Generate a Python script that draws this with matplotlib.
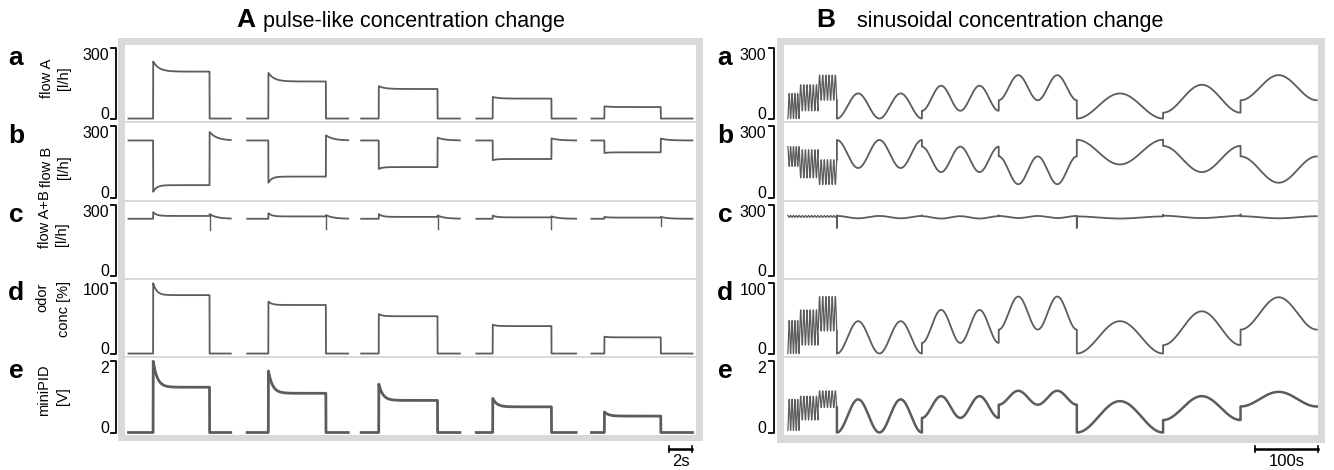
import numpy as np
import matplotlib.pyplot as plt
from matplotlib.patches import Rectangle
from matplotlib.transforms import blended_transform_factory

plt.rcParams['font.family'] = ['Liberation Sans', 'DejaVu Sans']

# ---------------- data ----------------
# A: pulse-like, five pulses (time in s)
p_start = [0.3, 10.4, 20.1, 29.9, 39.7]
p_on = [2.4, 12.2, 21.6, 31.3, 40.8]
p_off = [7.2, 17.1, 26.6, 36.3, 45.6]
p_end = [9.0, 19.0, 28.5, 38.4, 48.3]

flowA_plateau = [200, 158, 126, 85, 49]
flowA_peak = [243, 195, 138, 92, 52]

flowB_base = 240
flowB_plateau = [52, 88, 128, 162, 190]
flowB_dip = [24, 62, 120, 157, 187]
flowB_post = [276, 262, 252, 249, 248]

flowAB_base = 242
flowAB_plateau = [254, 252, 250, 248, 247]
flowAB_spike = [270, 266, 262, 256, 250]
flowAB_drop = [196, 198, 200, 200, 212]
flowAB_post = [262, 258, 256, 252, 250]

conc_plateau = [83, 69, 53, 39, 23]
conc_peak = [100, 74, 56, 41, 24]

pid_plateau = [1.27, 1.10, 0.90, 0.72, 0.46]
pid_peak = [2.0, 1.74, 1.36, 0.96, 0.58]

# B: sinusoidal (time in s)
fast_bounds = [6, 24, 54, 84]
fast_cycles = [4, 6, 6]
slow_bounds = [84, 219, 341, 465, 602, 725, 846]
slow_cycles = [2, 2, 2, 1, 1, 1]

sinA_fast = [(0, 107), (33, 144), (78, 185)]
sinA_slow = [(0, 107), (33, 140), (78, 185), (0, 107), (25, 144), (78, 185)]
sinB_fast = [(131, 214), (83, 201), (55, 159)]
sinB_slow = [(124, 242), (107, 214), (56, 173), (139, 243), (107, 217), (62, 173)]
sinAB_fast = [(248, 256), (248, 256), (248, 256)]
sinAB_slow = [(244, 254), (243, 253), (245, 254), (243, 252), (245, 255), (244, 253)]
sinAB_jump = [204, 256, 256, 204, 258, 260]
sinC_fast = [(0, 47), (12, 62), (32, 81)]
sinC_slow = [(0, 46), (15, 62), (34, 81), (0, 46), (12, 60), (34, 80)]
sinE_fast = [(0.06, 0.93), (0.35, 1.02), (0.70, 1.17)]
sinE_slow = [(0.0, 0.93), (0.41, 1.02), (0.78, 1.17), (0.0, 0.88), (0.35, 1.02), (0.73, 1.14)]

row_max = [300, 300, 300, 100, 2]
row_letters = ['a', 'b', 'c', 'd', 'e']
row_label1 = ['flow A', 'flow B', 'flow A+B', 'odor', 'miniPID']
row_label2 = ['[l/h]', '[l/h]', '[l/h]', 'conc [%]', '[V]']

# ---------------- layout (pixels) ----------------
W, H = 1334, 470
fig = plt.figure(figsize=(W / 100, H / 100), dpi=100)

GRAY = '#d9d9d9'
LINE = '#5c5c5c'

row_top = [45, 123, 202, 280, 358]
row_bot = [121, 200, 278, 356, 435]
lab1_y = [78, 167, 219, 297, 390]
lab2_y = [78, 167, 234, 309, 396]
lab1_x = [47, 47, 45, 42, 44]
lab2_x = [64, 64, 62, 64, 63]


def fx(px):
    return px / W


def fy(py):
    return 1 - py / H


def panel_bg(x0, x1, y0, y1):
    fig.add_artist(Rectangle((fx(x0), fy(y1)), fx(x1) - fx(x0), fy(y0) - fy(y1),
                             transform=fig.transFigure, facecolor=GRAY,
                             edgecolor='none', zorder=-5))


panel_bg(118, 703, 38, 441)
panel_bg(777, 1325, 38, 443)


def make_axes(x0, x1, xlim, bracket_x, tick_x, letter_x):
    axes = []
    for i in range(5):
        ax = fig.add_axes([fx(x0), fy(row_bot[i]), fx(x1) - fx(x0),
                           fy(row_top[i]) - fy(row_bot[i])])
        ax.set_facecolor('white')
        for s in ax.spines.values():
            s.set_visible(False)
        ax.set_xticks([])
        ax.set_yticks([])
        vmax = row_max[i]
        ax.set_ylim(-0.035 * vmax, 1.045 * vmax)
        ax.set_xlim(*xlim)
        tr = blended_transform_factory(fig.transFigure, ax.transData)
        ax.plot([fx(bracket_x - 5), fx(bracket_x), fx(bracket_x), fx(bracket_x - 5)],
                [vmax, vmax, 0, 0], color='black', lw=1.3, transform=tr,
                clip_on=False)
        ax.text(fx(tick_x), vmax, str(vmax), transform=tr, ha='right',
                va='top', fontsize=11.5)
        ax.text(fx(tick_x), 0, '0', transform=tr, ha='right', va='baseline',
                fontsize=11.5)
        fig.text(fx(letter_x), fy(row_top[i] + 20), row_letters[i],
                 ha='center', va='baseline', fontsize=19, fontweight='bold')
        axes.append(ax)
    return axes


axL = make_axes(125, 696, (0, 48.6), 116, 109, 16)
axR = make_axes(784, 1318, (0, 848), 774, 766, 725)

for i in range(5):
    fig.text(fx(lab1_x[i]), fy(lab1_y[i]), row_label1[i], rotation=90,
             ha='center', va='center', fontsize=10.5)
    fig.text(fx(lab2_x[i]), fy(lab2_y[i]), row_label2[i], rotation=90,
             ha='center', va='center', fontsize=10.5)


# ---------------- A: pulses ----------------
def pulse(t, on, off, base, peak, plateau, post, tau_on, tau_off):
    y = np.full(t.shape, float(base))
    m = (t >= on) & (t < off)
    y[m] = plateau + (peak - plateau) * np.exp(-(t[m] - on) / tau_on)
    m = t >= off
    y[m] = base + (post - base) * np.exp(-(t[m] - off) / tau_off)
    return y


for k in range(5):
    t = np.linspace(p_start[k], p_end[k], 800)
    on, off = p_on[k], p_off[k]
    axL[0].plot(t, pulse(t, on, off, 0, flowA_peak[k], flowA_plateau[k], 0, 0.5, 0.1),
                color=LINE, lw=1.3)
    axL[1].plot(t, pulse(t, on, off, flowB_base, flowB_dip[k], flowB_plateau[k],
                         flowB_post[k], 0.3, 0.6), color=LINE, lw=1.3)
    axL[2].plot(t, pulse(t, on, off, flowAB_base, flowAB_spike[k], flowAB_plateau[k],
                         flowAB_post[k], 0.3, 0.6), color=LINE, lw=1.3)
    axL[2].plot([off, off], [flowAB_drop[k], flowAB_post[k]], color=LINE, lw=1.0)
    axL[3].plot(t, pulse(t, on, off, 0, conc_peak[k], conc_plateau[k], 0, 0.3, 0.1),
                color=LINE, lw=1.3)
    axL[4].plot(t, pulse(t, on, off, 0, pid_peak[k], pid_plateau[k], 0, 0.35, 0.25),
                color=LINE, lw=2.0)


# ---------------- B: sinusoids ----------------
def sine_seg(t0, t1, lo, hi, ncyc, start_high):
    t = np.linspace(t0, t1, 60 * ncyc + 40)
    ph = (t - t0) / (t1 - t0) * ncyc * 2 * np.pi
    sgn = 1 if start_high else -1
    return t, (lo + hi) / 2 + sgn * (hi - lo) / 2 * np.cos(ph)


series = [(sinA_fast, sinA_slow, False), (sinB_fast, sinB_slow, True),
          (sinAB_fast, sinAB_slow, True), (sinC_fast, sinC_slow, False),
          (sinE_fast, sinE_slow, False)]

for i, (fast, slow, high) in enumerate(series):
    ts, ys = [], []
    for j in range(3):
        t, y = sine_seg(fast_bounds[j], fast_bounds[j + 1], fast[j][0], fast[j][1],
                        fast_cycles[j], high)
        ts.append(t)
        ys.append(y)
    axR[i].plot(np.concatenate(ts), np.concatenate(ys), color=LINE, lw=0.9)
    ts, ys = [ts[-1][-1:]], [ys[-1][-1:]]
    for j in range(6):
        t, y = sine_seg(slow_bounds[j], slow_bounds[j + 1], slow[j][0], slow[j][1],
                        slow_cycles[j], high)
        if i == 2:
            t = np.concatenate([[slow_bounds[j]], t])
            y = np.concatenate([[sinAB_jump[j]], y])
        ts.append(t)
        ys.append(y)
    axR[i].plot(np.concatenate(ts), np.concatenate(ys), color=LINE,
                lw=1.8 if i == 4 else 1.3)

# ---------------- scale bars ----------------
for ax, x0, x1, lab in [(axL[4], 46.3, 48.3, '2s'), (axR[4], 748, 848, '100s')]:
    tr = blended_transform_factory(ax.transData, fig.transFigure)
    ax.plot([x0, x1], [fy(449), fy(449)], color='black', lw=1.8, transform=tr,
            clip_on=False)
    for xe in (x0, x1):
        ax.plot([xe, xe], [fy(446), fy(452)], color='black', lw=1.2, transform=tr,
                clip_on=False)
    ax.text((x0 + x1) / 2, fy(461), lab, transform=tr, ha='center', va='center',
            fontsize=12)

# ---------------- titles ----------------
fig.text(fx(236), fy(27), 'A', fontsize=19, fontweight='bold', va='baseline')
fig.text(fx(263), fy(27), 'pulse-like concentration change', fontsize=15.5,
         va='baseline')
fig.text(fx(816), fy(27), 'B', fontsize=19, fontweight='bold', va='baseline')
fig.text(fx(857), fy(27), 'sinusoidal concentration change', fontsize=15.5,
         va='baseline')

fig.savefig('out.png', dpi=100)
